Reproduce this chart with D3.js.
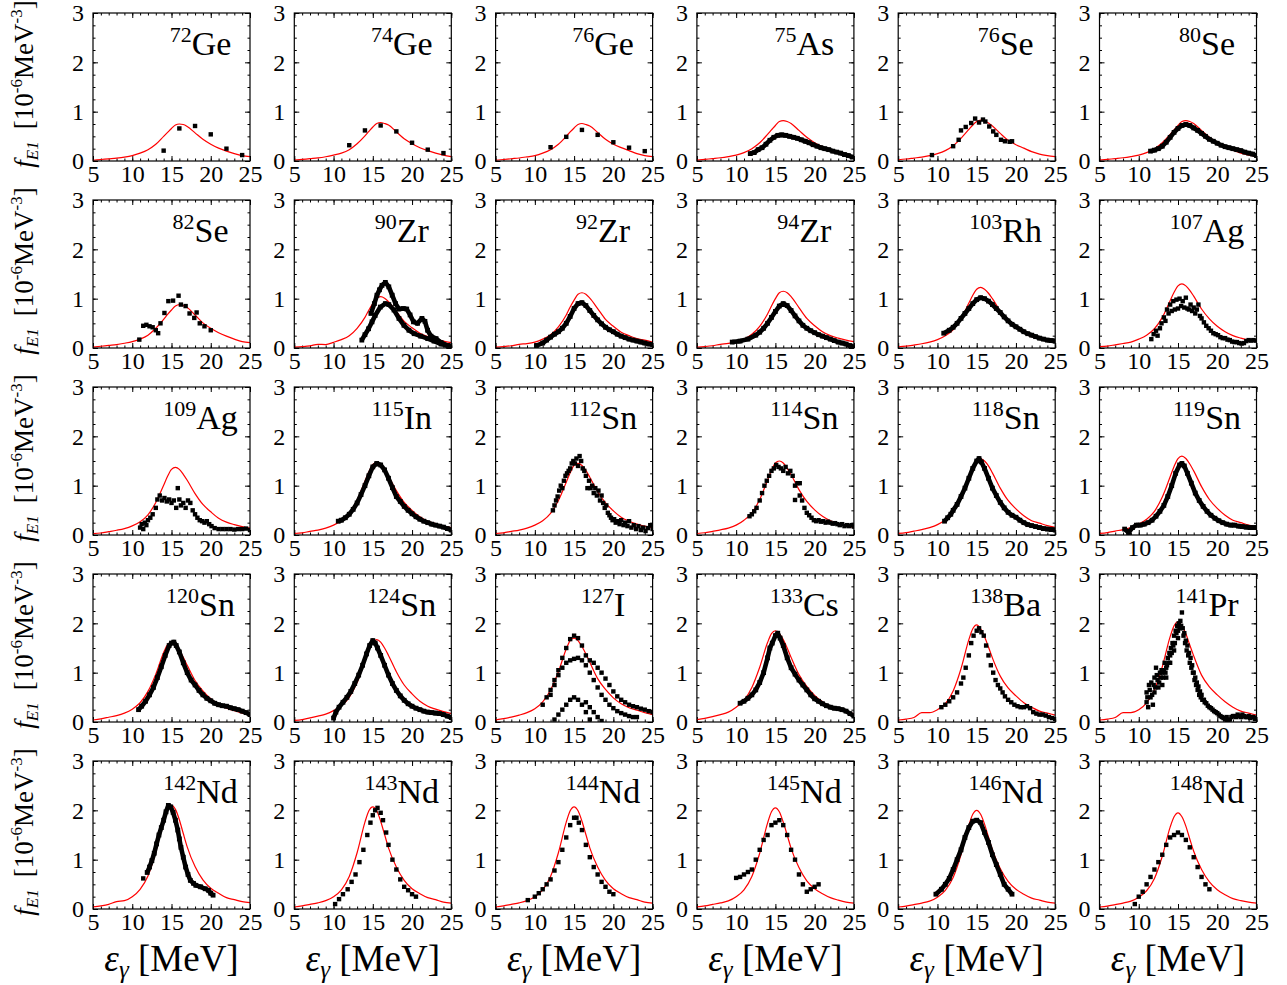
<!DOCTYPE html>
<html>
<head>
<meta charset="utf-8">
<script src="https://cdn.jsdelivr.net/npm/d3@7"></script>
<style>
  body { margin: 0; background: #fff; }
  svg { display: block; }
  text { font-family: "Liberation Serif", "Times New Roman", serif; fill: #000; }
</style>
</head>
<body>
<svg id="chart" width="1287" height="985"></svg>
<script>
// Nuclides shown, one panel each (row by row)
const massNumbers = [72, 74, 76, 75, 76, 80,
                     82, 90, 92, 94, 103, 107,
                     109, 115, 112, 114, 118, 119,
                     120, 124, 127, 133, 138, 141,
                     142, 143, 144, 145, 146, 148];
const elements = ["Ge", "Ge", "Ge", "As", "Se", "Se",
                  "Se", "Zr", "Zr", "Zr", "Rh", "Ag",
                  "Ag", "In", "Sn", "Sn", "Sn", "Sn",
                  "Sn", "Sn", "I", "Cs", "Ba", "Pr",
                  "Nd", "Nd", "Nd", "Nd", "Nd", "Nd"];

const xTicks = [5, 10, 15, 20, 25];
const yTicks = [0, 1, 2, 3];

// Energies (MeV) at which the model strength function is tabulated
const energyGrid = [5, 6, 7, 8, 9, 10, 11, 12, 13, 14, 14.5, 15, 15.5, 16, 16.5, 17, 18, 19, 20, 21, 22, 23, 24, 25];

// Model E1 strength f_E1 (10^-6 MeV^-3) on energyGrid, one row per nuclide
const modelCurves = [
  [0.015,0.03,0.045,0.06,0.08,0.11,0.16,0.23,0.34,0.5,0.58,0.66,0.73,0.75,0.74,0.7,0.57,0.44,0.34,0.26,0.2,0.15,0.11,0.09],
  [0.016,0.031,0.047,0.062,0.086,0.12,0.16,0.23,0.35,0.51,0.6,0.69,0.76,0.78,0.76,0.73,0.59,0.45,0.35,0.27,0.21,0.16,0.12,0.09],
  [0.015,0.03,0.046,0.061,0.084,0.11,0.16,0.23,0.34,0.5,0.59,0.67,0.74,0.76,0.74,0.71,0.58,0.44,0.34,0.27,0.21,0.15,0.11,0.09],
  [0.016,0.033,0.049,0.066,0.09,0.12,0.17,0.25,0.37,0.54,0.63,0.72,0.8,0.82,0.8,0.76,0.62,0.48,0.37,0.29,0.22,0.16,0.12,0.1],
  [0.025,0.04,0.06,0.08,0.11,0.15,0.21,0.31,0.46,0.64,0.73,0.8,0.83,0.81,0.77,0.71,0.56,0.42,0.33,0.26,0.19,0.14,0.11,0.09],
  [0.016,0.033,0.049,0.066,0.09,0.12,0.17,0.25,0.37,0.54,0.63,0.72,0.8,0.82,0.8,0.76,0.62,0.48,0.37,0.29,0.22,0.16,0.12,0.1],
  [0.018,0.035,0.053,0.07,0.097,0.13,0.18,0.26,0.4,0.58,0.68,0.77,0.85,0.88,0.86,0.82,0.67,0.51,0.4,0.31,0.24,0.18,0.13,0.11],
  [0.016,0.026,0.042,0.075,0.07,0.115,0.17,0.25,0.4,0.62,0.77,0.9,1.01,1.04,1.01,0.94,0.74,0.54,0.41,0.3,0.23,0.18,0.14,0.11],
  [0.017,0.028,0.045,0.075,0.09,0.12,0.18,0.27,0.43,0.67,0.83,0.97,1.09,1.12,1.09,1.01,0.8,0.58,0.44,0.32,0.25,0.19,0.16,0.12],
  [0.017,0.029,0.046,0.075,0.092,0.13,0.18,0.28,0.44,0.69,0.85,1.0,1.12,1.15,1.12,1.04,0.82,0.6,0.45,0.33,0.25,0.2,0.16,0.13],
  [0.025,0.037,0.06,0.086,0.12,0.17,0.25,0.37,0.59,0.91,1.07,1.19,1.23,1.19,1.11,1.0,0.75,0.55,0.42,0.31,0.23,0.19,0.15,0.12],
  [0.026,0.039,0.065,0.091,0.12,0.18,0.26,0.39,0.62,0.96,1.13,1.26,1.3,1.26,1.17,1.05,0.79,0.59,0.44,0.33,0.25,0.2,0.16,0.13],
  [0.027,0.041,0.068,0.096,0.13,0.185,0.27,0.41,0.66,1.01,1.19,1.33,1.37,1.33,1.23,1.11,0.84,0.62,0.47,0.34,0.26,0.21,0.17,0.14],
  [0.03,0.044,0.074,0.1,0.14,0.2,0.29,0.44,0.71,1.09,1.28,1.43,1.47,1.43,1.32,1.19,0.9,0.66,0.5,0.37,0.28,0.23,0.18,0.15],
  [0.03,0.044,0.073,0.1,0.14,0.2,0.29,0.44,0.7,1.07,1.26,1.41,1.45,1.41,1.31,1.17,0.88,0.65,0.49,0.36,0.28,0.22,0.18,0.145],
  [0.03,0.045,0.075,0.105,0.14,0.2,0.3,0.45,0.72,1.11,1.31,1.46,1.5,1.46,1.35,1.22,0.92,0.68,0.51,0.38,0.29,0.23,0.19,0.15],
  [0.031,0.047,0.078,0.11,0.15,0.21,0.31,0.47,0.74,1.15,1.35,1.5,1.55,1.5,1.4,1.26,0.95,0.7,0.53,0.39,0.29,0.24,0.19,0.155],
  [0.032,0.048,0.08,0.11,0.15,0.22,0.32,0.48,0.77,1.18,1.39,1.55,1.6,1.55,1.44,1.3,0.98,0.72,0.54,0.4,0.3,0.25,0.2,0.16],
  [0.04,0.065,0.097,0.13,0.18,0.26,0.39,0.62,0.97,1.41,1.57,1.62,1.57,1.46,1.31,1.15,0.84,0.63,0.47,0.36,0.28,0.23,0.18,0.15],
  [0.033,0.05,0.084,0.12,0.16,0.23,0.33,0.5,0.8,1.24,1.45,1.62,1.67,1.62,1.5,1.35,1.02,0.75,0.57,0.42,0.32,0.26,0.21,0.17],
  [0.043,0.068,0.1,0.14,0.19,0.27,0.41,0.65,1.02,1.48,1.65,1.7,1.65,1.53,1.38,1.21,0.88,0.66,0.49,0.37,0.29,0.24,0.19,0.15],
  [0.046,0.074,0.11,0.15,0.2,0.3,0.44,0.7,1.11,1.61,1.79,1.85,1.79,1.67,1.5,1.31,0.96,0.72,0.54,0.41,0.31,0.26,0.2,0.17],
  [0.04,0.06,0.09,0.19,0.19,0.25,0.37,0.63,1.08,1.67,1.89,1.97,1.89,1.73,1.52,1.3,0.93,0.69,0.53,0.39,0.3,0.22,0.18,0.14],
  [0.04,0.06,0.09,0.19,0.19,0.25,0.39,0.65,1.12,1.73,1.95,2.03,1.95,1.79,1.56,1.34,0.95,0.71,0.55,0.41,0.3,0.22,0.18,0.14],
  [0.042,0.063,0.095,0.15,0.17,0.25,0.4,0.67,1.16,1.79,2.02,2.1,2.02,1.81,1.53,1.26,0.86,0.59,0.42,0.32,0.23,0.19,0.15,0.13],
  [0.041,0.062,0.093,0.124,0.17,0.25,0.39,0.66,1.14,1.76,1.99,2.07,1.99,1.78,1.51,1.24,0.85,0.58,0.41,0.31,0.23,0.19,0.14,0.12],
  [0.041,0.062,0.093,0.124,0.17,0.25,0.39,0.66,1.14,1.76,1.99,2.07,1.99,1.78,1.51,1.24,0.85,0.58,0.41,0.31,0.23,0.19,0.14,0.12],
  [0.041,0.062,0.092,0.123,0.165,0.25,0.39,0.66,1.13,1.74,1.97,2.05,1.97,1.76,1.5,1.23,0.84,0.57,0.41,0.31,0.23,0.18,0.14,0.12],
  [0.04,0.06,0.09,0.12,0.16,0.24,0.38,0.64,1.1,1.7,1.92,2.0,1.92,1.72,1.46,1.2,0.82,0.56,0.4,0.3,0.22,0.18,0.14,0.12],
  [0.04,0.06,0.09,0.12,0.16,0.24,0.37,0.62,1.07,1.66,1.87,1.95,1.87,1.68,1.42,1.17,0.8,0.55,0.39,0.29,0.21,0.17,0.14,0.12]
];

// Densely measured data sets, [E (MeV), f_E1], drawn as continuous runs of markers
const tracePoints = [
  [], [], [],
  [[[11.8,0.15],[12.3,0.17],[12.8,0.23],[13.3,0.27],[13.8,0.34],[14.3,0.42],[14.8,0.48],[15.3,0.52],[15.8,0.53],[16.3,0.52],[16.8,0.5],[17.3,0.48],[17.8,0.46],[18.3,0.43],[18.8,0.4],[19.3,0.37],[19.8,0.33],[20.3,0.3],[20.8,0.27],[21.3,0.25],[21.8,0.23],[22.3,0.2],[22.8,0.18],[23.3,0.16],[23.8,0.13],[24.3,0.11],[24.8,0.08]]],
  [],
  [[[11.5,0.2],[12,0.22],[12.5,0.25],[13,0.3],[13.5,0.38],[14,0.48],[14.5,0.58],[15,0.66],[15.5,0.72],[16,0.74],[16.5,0.72],[17,0.67],[17.5,0.62],[18,0.56],[18.5,0.5],[19,0.44],[19.5,0.4],[20,0.36],[20.5,0.32],[21,0.29],[21.5,0.27],[22,0.25],[22.5,0.23],[23,0.21],[23.5,0.18],[24,0.16],[24.5,0.14],[25,0.11]]],
  [],
  [[[14.76,0.7],[15.2,0.9],[15.53,1.07],[15.85,1.18],[16.17,1.27],[16.6,1.33],[17.04,1.24],[17.47,1.07],[17.9,0.9],[18.33,0.79],[18.89,0.8],[19.32,0.79],[19.75,0.67],[20.18,0.53],[20.7,0.5],[21.26,0.6],[21.64,0.54],[21.98,0.36],[22.41,0.24],[23.06,0.19],[23.7,0.11],[24.56,0.05],[25,0.03]],
   [[13.6,0.16],[14.0,0.27],[14.46,0.39],[14.9,0.53],[15.3,0.66],[15.96,0.83],[16.6,0.9],[17.04,0.88],[17.7,0.77],[18.33,0.6],[18.97,0.46],[19.6,0.36],[20.27,0.29],[21.1,0.24],[22,0.19],[22.8,0.14],[23.7,0.08],[24.8,0.04]]],
  [[[10.2,0.05],[11,0.1],[11.5,0.16],[12,0.22],[12.5,0.28],[13,0.33],[13.5,0.4],[14,0.5],[14.5,0.64],[15,0.8],[15.5,0.9],[16,0.92],[16.5,0.86],[17,0.76],[17.5,0.66],[18,0.57],[18.5,0.49],[19,0.42],[19.5,0.37],[20,0.33],[20.5,0.28],[21,0.24],[21.5,0.21],[22,0.18],[22.5,0.16],[23,0.14],[23.5,0.12],[24,0.1],[24.5,0.08],[25,0.07]]],
  [[[9.5,0.12],[10.5,0.14],[11.5,0.18],[12.5,0.26],[13,0.32],[13.5,0.4],[14,0.5],[14.5,0.62],[15,0.74],[15.5,0.85],[16,0.9],[16.5,0.86],[17,0.76],[17.5,0.65],[18,0.55],[18.5,0.46],[19,0.4],[19.5,0.35],[20,0.31],[20.5,0.27],[21,0.24],[21.5,0.21],[22,0.18],[22.5,0.15],[23,0.12],[23.5,0.1],[24,0.08],[24.5,0.05],[25,0.02]]],
  [[[10.8,0.3],[11.5,0.36],[12,0.42],[12.5,0.5],[13,0.6],[13.5,0.7],[14,0.8],[14.5,0.9],[15,0.98],[15.5,1.02],[16,1.0],[16.5,0.95],[17,0.88],[17.5,0.8],[18,0.72],[18.5,0.63],[19,0.55],[19.5,0.48],[20,0.43],[20.5,0.38],[21,0.33],[21.5,0.29],[22,0.26],[22.5,0.23],[23,0.2],[23.5,0.18],[24,0.16],[24.5,0.15],[25,0.14]]],
  [],
  [],
  [[[10.6,0.28],[11,0.3],[11.5,0.35],[12,0.42],[12.5,0.52],[13,0.65],[13.5,0.82],[14,1.0],[14.5,1.2],[15,1.38],[15.5,1.45],[16,1.42],[16.5,1.32],[17,1.15],[17.5,0.96],[18,0.78],[18.5,0.68],[19,0.58],[19.5,0.5],[20,0.43],[20.5,0.37],[21,0.32],[21.5,0.28],[22,0.25],[22.5,0.22],[23,0.2],[23.5,0.18],[24,0.16],[24.5,0.13],[25,0.1]]],
  [],
  [],
  [[[10.9,0.28],[11.3,0.35],[11.7,0.42],[12,0.5],[12.5,0.62],[13,0.78],[13.5,0.95],[14,1.15],[14.5,1.35],[15,1.5],[15.3,1.55],[15.6,1.48],[16,1.35],[16.5,1.15],[17,0.95],[17.5,0.8],[18,0.66],[18.5,0.55],[19,0.46],[19.5,0.4],[20,0.36],[20.5,0.3],[21,0.25],[21.5,0.21],[22,0.19],[22.5,0.17],[23,0.15],[23.5,0.13],[24,0.12],[24.5,0.11],[25,0.1]]],
  [[[8.2,0.12],[8.7,0.05],[9.2,0.15],[9.7,0.2],[10.2,0.2],[10.7,0.22],[11.2,0.25],[11.7,0.3],[12.2,0.38],[12.7,0.48],[13.2,0.6],[13.7,0.78],[14.2,1.0],[14.7,1.25],[15.2,1.42],[15.5,1.45],[15.8,1.4],[16.2,1.25],[16.7,1.05],[17.2,0.85],[17.7,0.7],[18.2,0.58],[18.7,0.48],[19.2,0.4],[19.7,0.34],[20.2,0.29],[20.7,0.25],[21.2,0.22],[21.7,0.2],[22.2,0.2],[22.7,0.18],[23.2,0.17],[23.7,0.16],[24.2,0.15],[24.7,0.15],[25,0.15]]],
  [[[10.8,0.25],[11.2,0.32],[11.7,0.42],[12.2,0.55],[12.7,0.7],[13.2,0.9],[13.7,1.12],[14.2,1.35],[14.7,1.55],[15,1.6],[15.3,1.62],[15.6,1.55],[16,1.42],[16.5,1.2],[17,1.0],[17.5,0.85],[18,0.75],[18.5,0.64],[19,0.55],[19.5,0.48],[20,0.43],[20.5,0.38],[21,0.35],[21.5,0.33],[22,0.32],[22.5,0.29],[23,0.27],[23.5,0.25],[24,0.22],[24.5,0.19],[25,0.15]]],
  [[[10,0.08],[10.3,0.2],[10.7,0.3],[11.2,0.4],[11.7,0.5],[12.2,0.62],[12.7,0.78],[13.2,0.95],[13.7,1.15],[14.2,1.38],[14.6,1.55],[15,1.65],[15.3,1.6],[15.6,1.5],[16,1.35],[16.5,1.15],[17,0.95],[17.5,0.78],[18,0.64],[18.5,0.53],[19,0.44],[19.5,0.37],[20,0.32],[20.5,0.28],[21,0.25],[21.5,0.22],[22,0.2],[22.5,0.19],[23,0.18],[23.5,0.17],[24,0.15],[24.5,0.12],[25,0.09]]],
  [],
  [[[10.5,0.38],[11,0.42],[11.5,0.48],[12,0.55],[12.5,0.65],[13,0.8],[13.5,1.0],[14,1.3],[14.3,1.5],[14.6,1.6],[15,1.75],[15.3,1.8],[15.6,1.7],[16,1.55],[16.5,1.3],[17,1.1],[17.5,0.97],[18,0.85],[18.5,0.75],[19,0.65],[19.5,0.55],[20,0.47],[20.5,0.42],[21,0.37],[21.5,0.33],[22,0.3],[22.5,0.28],[23,0.27],[23.5,0.25],[24,0.22],[24.5,0.17],[25,0.12]]],
  [],
  [],
  [[[11.9,0.74],[12.2,0.85],[12.5,0.98],[12.8,1.13],[13.1,1.32],[13.4,1.5],[13.7,1.65],[14.0,1.8],[14.3,1.97],[14.6,2.1],[14.9,2.07],[15.2,1.96],[15.5,1.8],[15.8,1.6],[16.0,1.42],[16.2,1.25],[16.5,1.05],[16.8,0.85],[17.1,0.7],[17.4,0.58],[17.8,0.52],[18.1,0.48],[18.7,0.45],[19.3,0.41],[19.7,0.38],[20.0,0.32],[20.3,0.28]]],
  [],
  [],
  [],
  [[[9.8,0.3],[10.5,0.4],[11,0.5],[11.5,0.62],[12,0.8],[12.5,1.0],[13,1.2],[13.5,1.45],[14,1.65],[14.5,1.78],[15,1.8],[15.5,1.75],[16,1.55],[16.5,1.35],[17,1.1],[17.5,0.9],[18,0.7],[18.5,0.5],[19,0.4],[19.5,0.3]]],
  []
];

// Sparser or scattered measurements, [E (MeV), f_E1], drawn as individual markers
const scatterPoints = [
  [[14,0.21],[16,0.66],[18,0.71],[20,0.54],[22,0.25],[24,0.12]],
  [[12,0.32],[14,0.62],[16,0.72],[18,0.6],[20,0.37],[22,0.23],[24,0.16]],
  [[12,0.28],[14,0.49],[16,0.63],[18,0.53],[20,0.38],[22,0.27],[24,0.2]],
  [],
  [[9.3,0.12],[12.0,0.3],[12.7,0.43],[13.0,0.62],[13.6,0.69],[14.3,0.77],[14.8,0.86],[15.3,0.78],[15.8,0.84],[16.1,0.8],[16.6,0.7],[17.1,0.6],[17.5,0.53],[18.1,0.43],[18.6,0.4],[19.2,0.39],[19.5,0.4]],
  [],
  [[10.9,0.17],[11.4,0.45],[11.8,0.47],[12.2,0.44],[12.6,0.42],[13.0,0.36],[13.3,0.3],[13.6,0.5],[14.1,0.71],[14.6,0.95],[15.2,0.96],[15.9,1.06],[16.2,0.88],[16.8,0.85],[17.3,0.7],[17.9,0.61],[18.2,0.72],[18.6,0.5],[19.2,0.44],[20.0,0.36]],
  [], [], [], [],
  [[11.6,0.18],[11.9,0.28],[12.2,0.35],[12.4,0.25],[12.7,0.4],[12.9,0.5],[13.2,0.62],[13.4,0.55],[13.6,0.78],[13.8,0.7],[14.0,0.88],[14.2,0.75],[14.4,0.95],[14.6,0.78],[14.8,0.98],[15.0,0.8],[15.2,1.0],[15.4,0.85],[15.6,0.95],[15.8,0.82],[16.0,1.02],[16.2,0.8],[16.4,0.78],[16.6,0.88],[16.8,0.75],[17.0,0.82],[17.2,0.7],[17.4,0.78],[17.6,0.88],[17.8,0.65],[18.0,0.6],[18.3,0.52],[18.6,0.45],[18.9,0.4],[19.2,0.35],[19.5,0.3],[19.8,0.28],[20.1,0.26],[20.4,0.22],[20.7,0.2],[21.0,0.2],[21.3,0.17],[21.6,0.16],[21.9,0.13],[22.2,0.12],[22.5,0.12],[22.8,0.1],[23.1,0.09],[23.4,0.1],[23.7,0.14],[24.0,0.16],[24.3,0.15],[24.6,0.16],[24.9,0.15]],
  [[11,0.15],[11.2,0.22],[11.4,0.12],[11.6,0.25],[11.8,0.2],[12,0.3],[12.3,0.35],[12.6,0.42],[13,0.55],[13.2,0.72],[13.5,0.8],[13.8,0.7],[14.1,0.75],[14.4,0.68],[14.7,0.72],[15,0.65],[15.3,0.7],[15.6,0.55],[15.8,0.95],[16.0,0.72],[16.2,0.6],[16.5,0.65],[16.8,0.55],[17.1,0.7],[17.4,0.65],[17.7,0.5],[18,0.42],[18.3,0.35],[18.6,0.3],[18.9,0.28],[19.2,0.25],[19.5,0.28],[19.8,0.22],[20.1,0.18],[20.5,0.14],[21,0.12],[21.5,0.12],[22,0.12],[22.5,0.12],[23,0.11],[23.5,0.12],[24,0.12],[24.5,0.13],[25,0.1]],
  [],
  [[12.3,0.5],[12.5,0.6],[12.7,0.7],[12.9,0.78],[13.1,0.9],[13.3,1.0],[13.5,0.95],[13.7,1.1],[13.9,1.2],[14.1,1.25],[14.3,1.3],[14.5,1.35],[14.7,1.45],[14.9,1.5],[15.1,1.45],[15.3,1.55],[15.5,1.4],[15.7,1.6],[15.9,1.5],[16.1,1.35],[16.3,1.3],[16.5,1.2],[16.7,0.95],[16.9,1.1],[17.1,0.95],[17.3,1.0],[17.5,0.85],[17.7,0.95],[17.9,0.8],[18.1,0.9],[18.3,0.7],[18.5,0.8],[18.7,0.65],[18.9,0.55],[19.1,0.6],[19.3,0.45],[19.5,0.4],[19.7,0.35],[19.9,0.3],[20.1,0.32],[20.3,0.25],[20.5,0.28],[20.8,0.22],[21,0.3],[21.3,0.2],[21.5,0.25],[21.8,0.18],[22,0.28],[22.3,0.15],[22.6,0.2],[22.9,0.12],[23.2,0.18],[23.5,0.1],[23.8,0.15],[24.1,0.08],[24.4,0.14],[24.7,0.2],[25,0.12]],
  [[11.7,0.38],[12,0.42],[12.3,0.48],[12.6,0.55],[13,0.7],[13.3,0.85],[13.6,1.0],[13.9,1.1],[14.2,1.2],[14.5,1.3],[14.8,1.35],[15.1,1.42],[15.4,1.38],[15.7,1.35],[16,1.3],[16.3,1.38],[16.6,1.25],[16.9,1.3],[17.2,1.2],[17.5,1.0],[17.8,1.05],[18.1,0.8],[18.4,0.7],[18.7,0.55],[19,0.45],[19.3,0.4],[19.6,0.35],[19.9,0.3],[20.2,0.28],[20.5,0.3],[20.8,0.27],[21.1,0.28],[21.4,0.25],[21.7,0.27],[22,0.25],[22.3,0.23],[22.6,0.24],[22.9,0.22],[23.2,0.2],[23.5,0.22],[23.8,0.18],[24.1,0.2],[24.4,0.18],[24.7,0.2],[25,0.17],[17.5,0.71],[18.1,1.05]],
  [], [], [], [],
  [[11,0.35],[11.5,0.5],[12,0.65],[12.5,0.85],[13,1.05],[13.5,1.3],[14,1.5],[14.5,1.68],[15,1.75],[15.5,1.7],[16,1.55],[16.5,1.35],[17,1.25],[17.5,1.2],[18,1.1],[18.5,1.0],[19,0.88],[19.5,0.75],[20,0.62],[20.5,0.52],[21,0.45],[21.5,0.4],[22,0.35],[22.5,0.32],[23,0.3],[23.5,0.27],[24,0.25],[24.5,0.22],[25,0.2],
   [12,0.55],[12.5,0.75],[13,0.95],[13.5,1.1],[14,1.2],[14.5,1.25],[15,1.28],[15.5,1.3],[16,1.25],[16.5,1.15],[17,1.0],[17.5,0.85],[18,0.7],[18.5,0.55],[19,0.45],[19.5,0.35],[20,0.28],[20.5,0.22],[21,0.18],[21.5,0.15],[22,0.12],[22.5,0.1],[23,0.1],
   [12.5,0.05],[13,0.15],[13.5,0.25],[14,0.35],[14.5,0.45],[15,0.5],[15.5,0.45],[16,0.35],[16.5,0.2],[17,0.05],
   [16.5,0.4],[17,0.3],[17.5,0.2],[18,0.1],[18.5,0.02]],
  [],
  [[10.5,0.3],[11,0.35],[11.5,0.42],[12,0.5],[12.5,0.6],[13,0.78],[13.3,0.9],[13.6,1.1],[14,1.35],[14.3,1.6],[14.6,1.75],[15,1.85],[15.3,1.9],[15.6,1.82],[15.9,1.75],[16.2,1.55],[16.5,1.35],[16.8,1.15],[17.1,1.0],[17.4,0.85],[17.7,0.75],[18,0.68],[18.3,0.6],[18.6,0.52],[19,0.45],[19.4,0.4],[19.8,0.35],[20.2,0.32],[20.6,0.3],[21,0.3],[21.4,0.32],[21.8,0.28],[22.2,0.2],[22.6,0.17],[23,0.15],[23.4,0.15],[23.8,0.13],[24.2,0.1],[24.6,0.08],[25,0.06]],
  [[11,0.4],[11,0.6],[11.2,0.3],[11.3,0.75],[11.5,0.5],[11.6,0.8],[11.8,0.35],[12,0.9],[12,0.6],[12.3,0.95],[12.5,0.7],[12.7,1.0],[12.9,1.05],[13.1,0.9],[13.3,1.2],[13.5,1.1],[13.7,1.3],[13.9,1.4],[14.1,1.5],[14.3,1.6],[14.5,1.75],[14.7,1.85],[14.9,1.95],[15.1,2.0],[15.3,2.05],[15.5,2.22],[15.4,1.95],[15.6,1.9],[15.8,1.8],[16.0,1.65],[16.2,1.55],[16.4,1.4],[16.6,1.3],[16.8,1.15],[17,1.0],[17.2,0.9],[17.4,0.8],[17.6,0.72],[17.8,0.62],[18,0.55],[18.3,0.45],[18.6,0.38],[19,0.3],[19.4,0.25],[19.8,0.2],[20.2,0.15],[20.6,0.1],[21,0.05],[21.4,0.02],[21.8,0.1],[22.2,0.12],[22.6,0.15],[23,0.1],[23.4,0.12],[23.8,0.1],[24.2,0.08],[24.6,0.1],[25,0.08],
   [13,0.75],[13.5,0.9],[14,1.2],[14.5,1.45],[15,1.7],[12.2,1.1],
   [11.1,0.5],[11.4,0.65],[11.7,0.55],[11.9,0.75],[12.1,0.7],[12.4,0.85],[12.6,0.8],[12.8,0.9],[13.0,1.0],[13.2,1.05],[13.4,1.0],[13.6,1.15],[13.8,1.2],[14.0,1.35],[14.2,1.4],[14.4,1.55],[14.6,1.6],[14.8,1.8],[15.0,1.85],[15.2,1.9],[15.7,1.75],[15.9,1.6],[16.1,1.45],[16.3,1.35],[16.5,1.2],[16.7,1.1],[16.9,1.0],[17.1,0.85],[17.3,0.75],[17.5,0.65],[17.7,0.55],[17.9,0.5],[18.1,0.45],[18.4,0.4],[18.8,0.33],[19.2,0.28],[19.6,0.22],[20,0.18],[20.4,0.12],[20.8,0.08],[21.2,0.1],[21.6,0.05],[22,0.12],[22.4,0.1],[22.8,0.12],[23.2,0.15],[23.6,0.1],[24,0.12],[24.4,0.1],[24.8,0.06]],
  [[11.4,0.62]],
  [[10.2,0.1],[10.7,0.2],[11.2,0.3],[11.8,0.4],[12.3,0.55],[12.8,0.7],[13.3,0.95],[13.8,1.2],[14.3,1.5],[14.7,1.75],[15.0,1.9],[15.3,2.0],[15.6,2.05],[16,1.95],[16.3,1.8],[16.7,1.55],[17,1.3],[17.5,1.0],[18,0.8],[18.5,0.6],[19,0.45],[19.5,0.38],[20,0.3],[20.5,0.25]],
  [[9.1,0.18],[10,0.25],[10.5,0.32],[11,0.4],[11.5,0.5],[12,0.6],[12.5,0.78],[13,0.95],[13.5,1.2],[14,1.45],[14.5,1.7],[15,1.85],[15.3,1.85],[15.6,1.75],[16,1.6],[16.5,1.3],[17,1.05],[17.5,0.85],[18,0.7],[18.5,0.55],[19,0.45],[19.5,0.35],[20,0.3]],
  [[10,0.63],[10.5,0.65],[11,0.7],[11.5,0.75],[12,0.8],[12.5,1.0],[13,1.2],[13.5,1.4],[14,1.5],[14.5,1.7],[15,1.75],[15.5,1.8],[16,1.7],[16.5,1.5],[17,1.2],[17.5,1.0],[18,0.7],[18.5,0.5],[19,0.35],[19.5,0.4],[20,0.45],[20.5,0.5]],
  [],
  [[9.5,0.1],[10,0.25],[10.5,0.35],[11,0.5],[11.5,0.65],[12,0.8],[12.5,0.95],[13,1.1],[13.5,1.3],[14,1.45],[14.5,1.5],[15,1.55],[15.5,1.5],[16,1.4],[16.5,1.25],[17,1.05],[17.5,0.85],[18,0.65],[18.5,0.5],[19,0.4]]
];

// ---- layout ----
const svg = d3.select("#chart");
const PW = 157, PH = 148;          // panel frame size
const X0 = 93, Y0 = 13;            // first frame origin
const DX = 201.3, DY = 187;        // panel pitch

const x = d3.scaleLinear().domain([5, 25]).range([0, PW]);
const y = d3.scaleLinear().domain([0, 3]).range([PH, 0]);

const modelLine = d3.line()
  .x(d => x(d[0])).y(d => y(d[1]))
  .curve(d3.curveMonotoneX);
const dataLine = d3.line().x(d => x(d[0])).y(d => y(d[1]));

const minorX = d3.range(5, 25.001, 1);
const minorY = d3.range(0, 3.001, 0.25);

function styleAxis(sel) {
  sel.attr("font-family", null).attr("font-size", null);
  sel.select(".domain").remove();
  sel.selectAll("line").attr("stroke", "#000").attr("stroke-width", 1);
  sel.selectAll("text").style("font-size", "24px");
}

massNumbers.forEach((A, i) => {
  const col = i % 6, row = Math.floor(i / 6);
  const g = svg.append("g")
    .attr("transform", `translate(${X0 + col * DX},${Y0 + row * DY})`);

  const clipId = "clip" + i;
  g.append("clipPath").attr("id", clipId)
    .append("rect").attr("x", 0).attr("y", 0).attr("width", PW).attr("height", PH);

  // minor ticks on all four sides
  g.append("g").attr("transform", `translate(0,${PH})`)
    .call(d3.axisBottom(x).tickValues(minorX).tickSizeInner(-2.5).tickSizeOuter(0).tickFormat(""))
    .call(styleAxis);
  g.append("g")
    .call(d3.axisTop(x).tickValues(minorX).tickSizeInner(-2.5).tickSizeOuter(0).tickFormat(""))
    .call(styleAxis);
  g.append("g")
    .call(d3.axisLeft(y).tickValues(minorY).tickSizeInner(-2.5).tickSizeOuter(0).tickFormat(""))
    .call(styleAxis);
  g.append("g").attr("transform", `translate(${PW},0)`)
    .call(d3.axisRight(y).tickValues(minorY).tickSizeInner(-2.5).tickSizeOuter(0).tickFormat(""))
    .call(styleAxis);

  // major ticks with labels
  g.append("g").attr("transform", `translate(0,${PH})`)
    .call(d3.axisBottom(x).tickValues(xTicks).tickSizeInner(-5).tickSizeOuter(0).tickPadding(4).tickFormat(d3.format("d")))
    .call(styleAxis);
  g.append("g")
    .call(d3.axisLeft(y).tickValues(yTicks).tickSizeInner(-5).tickSizeOuter(0).tickPadding(9).tickFormat(d3.format("d")))
    .call(styleAxis);
  g.append("g")
    .call(d3.axisTop(x).tickValues(xTicks).tickSizeInner(-5).tickSizeOuter(0).tickFormat(""))
    .call(styleAxis);
  g.append("g").attr("transform", `translate(${PW},0)`)
    .call(d3.axisRight(y).tickValues(yTicks).tickSizeInner(-5).tickSizeOuter(0).tickFormat(""))
    .call(styleAxis);

  const plot = g.append("g").attr("clip-path", `url(#${clipId})`);

  // model curve
  plot.append("path")
    .datum(energyGrid.map((e, k) => [e, modelCurves[i][k]]))
    .attr("fill", "none")
    .attr("stroke", "#ff0000")
    .attr("stroke-width", 1.2)
    .attr("d", modelLine);

  // dense measurements: joined runs of markers
  tracePoints[i].forEach(series => {
    plot.append("path")
      .datum(series)
      .attr("fill", "none")
      .attr("stroke", "#000")
      .attr("stroke-width", 4.6)
      .attr("stroke-linejoin", "round")
      .attr("d", dataLine);
    plot.append("g").selectAll("rect")
      .data(series).join("rect")
      .attr("x", d => x(d[0]) - 2.4).attr("y", d => y(d[1]) - 2.4)
      .attr("width", 4.8).attr("height", 4.8).attr("fill", "#000");
  });

  // scattered measurements
  plot.append("g").selectAll("rect")
    .data(scatterPoints[i]).join("rect")
    .attr("x", d => x(d[0]) - 2.2).attr("y", d => y(d[1]) - 2.2)
    .attr("width", 4.4).attr("height", 4.4).attr("fill", "#000");

  // frame
  g.append("rect")
    .attr("width", PW).attr("height", PH)
    .attr("fill", "none").attr("stroke", "#000").attr("stroke-width", 1.2);

  // nuclide label
  const lab = g.append("text")
    .attr("x", PW / 2 + 29).attr("y", 42)
    .attr("text-anchor", "middle");
  lab.append("tspan").attr("font-size", 22).attr("dy", -13).text(A);
  lab.append("tspan").attr("font-size", 34).attr("dy", 13).text(elements[i]);

  // energy axis title under the bottom row
  if (row === 4) {
    const t = g.append("text")
      .attr("x", PW / 2).attr("y", PH + 62)
      .attr("text-anchor", "middle")
      .attr("font-size", 37);
    t.append("tspan").attr("font-style", "italic").text("\u03b5");
    t.append("tspan").attr("font-style", "italic").attr("font-size", 25).attr("dy", 7).text("\u03b3");
    t.append("tspan").attr("dy", -7).text(" [MeV]");
  }
});

// strength-function axis title, one per row
for (let row = 0; row < 5; row++) {
  const cy = Y0 + row * DY + 71;
  const t = svg.append("text")
    .attr("transform", `translate(33,${cy}) rotate(-90)`)
    .attr("text-anchor", "middle")
    .attr("font-size", 27);
  t.append("tspan").attr("font-style", "italic").text("f");
  t.append("tspan").attr("font-style", "italic").attr("font-size", 17).attr("dy", 5).text("E1");
  t.append("tspan").attr("dy", -5).text("\u2009 [10");
  t.append("tspan").attr("font-size", 17).attr("dy", -11).text("-6");
  t.append("tspan").attr("dy", 11).text("MeV");
  t.append("tspan").attr("font-size", 17).attr("dy", -11).text("-3");
  t.append("tspan").attr("dy", 11).text("]");
}
</script>
</body>
</html>
